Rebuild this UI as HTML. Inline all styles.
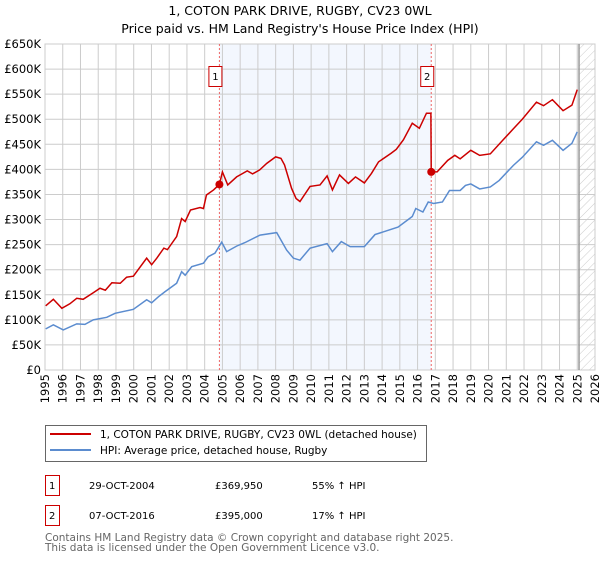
<!DOCTYPE html>
<html><head><meta charset="utf-8"><style>
body{margin:0;background:#fff;font-family:"DejaVu Sans","Liberation Sans",sans-serif;}
</style></head><body>
<svg id="c" width="600" height="560" xmlns="http://www.w3.org/2000/svg" font-family="DejaVu Sans, Liberation Sans, sans-serif">
<defs><pattern id="hatch" width="6" height="6" patternUnits="userSpaceOnUse" patternTransform="rotate(45)"><line x1="0" y1="0" x2="0" y2="6" stroke="#ccc" stroke-width="1"/></pattern></defs>
<text x="300" y="15" text-anchor="middle" font-size="12.5">1, COTON PARK DRIVE, RUGBY, CV23 0WL</text>
<text x="300" y="33" text-anchor="middle" font-size="12.5">Price paid vs. HM Land Registry's House Price Index (HPI)</text>
<g id="plot"></g>
<rect x="45.5" y="425.5" width="381" height="36" fill="#fff" stroke="#666"/>
<line x1="50" y1="434" x2="91" y2="434" stroke="#cc0000" stroke-width="2"/>
<text x="100" y="438" font-size="10.5">1, COTON PARK DRIVE, RUGBY, CV23 0WL (detached house)</text>
<line x1="50" y1="450" x2="91" y2="450" stroke="#5b8ccf" stroke-width="2"/>
<text x="100" y="454" font-size="10.5">HPI: Average price, detached house, Rugby</text>
<g font-size="10">
<rect x="45.5" y="475.5" width="14" height="20" fill="none" stroke="#cc0000"/>
<text x="49" y="489">1</text><text x="89" y="489">29-OCT-2004</text><text x="215" y="489">£369,950</text><text x="312" y="489">55% ↑ HPI</text></g>
<g font-size="10">
<rect x="45.5" y="505.5" width="14" height="20" fill="none" stroke="#cc0000"/>
<text x="49" y="519">2</text><text x="89" y="519">07-OCT-2016</text><text x="215" y="519">£395,000</text><text x="312" y="519">17% ↑ HPI</text></g>
<text x="45" y="541" font-size="10.5" fill="#666">Contains HM Land Registry data © Crown copyright and database right 2025.</text>
<text x="45" y="551" font-size="10.5" fill="#666">This data is licensed under the Open Government Licence v3.0.</text>
</svg>
<script>
const hpiYears=[1995.04,1995.47,1996.03,1996.79,1997.25,1997.72,1998.48,1998.95,1999.98,2000.73,2001.01,2001.39,2001.76,2002.42,2002.7,2002.9,2003.27,2003.93,2004.2,2004.58,2004.96,2005.24,2005.8,2006.27,2007.12,2008.06,2008.62,2009.0,2009.37,2009.94,2010.9,2011.2,2011.7,2012.2,2013.0,2013.6,2014.9,2015.7,2015.9,2016.3,2016.6,2016.9,2017.4,2017.8,2018.4,2018.7,2019.0,2019.5,2020.1,2020.6,2021.4,2021.9,2022.7,2023.1,2023.6,2024.2,2024.7,2025.0];
const hpiValues=[82,90,80,92,91,100,105,113,121,140,134,146,156,173,196,189,206,213,226,233,255,236,247,254,269,274,239,223,219,243,252,236,256,246,246,270,285,306,322,315,335,332,335,358,358,368,371,361,365,378,408,424,455,448,458,438,452,475];
const propYears=[1995.04,1995.47,1995.95,1996.4,1996.79,1997.15,1997.72,1998.1,1998.4,1998.77,1999.24,1999.6,1999.98,2000.73,2001.01,2001.3,2001.7,2001.9,2002.42,2002.7,2002.9,2003.2,2003.74,2003.93,2004.1,2004.5,2004.83,2005.0,2005.3,2005.8,2006.1,2006.4,2006.7,2007.1,2007.5,2008.0,2008.3,2008.5,2008.9,2009.15,2009.37,2009.94,2010.5,2010.9,2011.2,2011.6,2012.1,2012.5,2013.0,2013.4,2013.8,2014.5,2014.8,2015.2,2015.7,2016.1,2016.5,2016.75,2016.77,2017.1,2017.7,2018.1,2018.4,2019.0,2019.5,2020.1,2020.8,2021.4,2021.9,2022.7,2023.1,2023.6,2024.2,2024.7,2025.0];
const propValues=[128,141,123,132,143,141,154,163,159,174,173,185,187,223,210,223,243,240,266,302,296,319,324,322,349,359,370,395,369,385,391,397,391,399,412,425,422,409,362,342,336,366,369,387,359,389,372,385,373,392,415,432,440,459,492,482,512,512,395,395,418,428,421,438,428,431,458,481,500,534,527,539,517,528,559];
const saleYears=[2004.83,2016.77];
const saleValues=[369.95,395];
const saleLabels=["1","2"];
const yTicks=[0,50,100,150,200,250,300,350,400,450,500,550,600,650];
const yTickLabels=["£0","£50K","£100K","£150K","£200K","£250K","£300K","£350K","£400K","£450K","£500K","£550K","£600K","£650K"];
const xTicks=[1995,1996,1997,1998,1999,2000,2001,2002,2003,2004,2005,2006,2007,2008,2009,2010,2011,2012,2013,2014,2015,2016,2017,2018,2019,2020,2021,2022,2023,2024,2025,2026];
const X0=45,X1=595,Y0=370,Y1=44;
const xs=y=>X0+(y-1995)/(2026-1995)*(X1-X0);
const ys=v=>Y0-v/650*(Y0-Y1);
const NS="http://www.w3.org/2000/svg";
const g=document.getElementById('plot');
function mk(t,a,p){const e=document.createElementNS(NS,t);for(const k in a)e.setAttribute(k,a[k]);(p||g).appendChild(e);return e;}
const shade=mk('rect',{x:xs(saleYears[0]),y:Y1,width:xs(saleYears[1])-xs(saleYears[0]),height:Y0-Y1,fill:'#eef3fd',opacity:0.7});


const hat=mk('rect',{x:xs(2025.1),y:Y1,width:X1-xs(2025.1),height:Y0-Y1,fill:'url(#hatch)'});


yTicks.forEach((v,i)=>{
 const l=mk('line',{x1:X0,x2:X1,y1:ys(v),y2:ys(v),stroke:'#ccc'});
 
 
 const t=mk('text',{x:X0-4,y:ys(v)+4,'text-anchor':'end','font-size':'11.5'});
 t.textContent=yTickLabels[i];
 
 
});
xTicks.forEach(y=>{
 const l=mk('line',{x1:xs(y),x2:xs(y),y1:Y1,y2:Y0,stroke:'#ccc'});
 
 
 const t=mk('text',{x:xs(y)+4,y:Y0+4,'text-anchor':'end','font-size':'11.5',transform:`rotate(-90 ${xs(y)+4} ${Y0+4})`});
 t.textContent=y;
 
 
});
const fr=mk('rect',{x:X0,y:Y1,width:X1-X0,height:Y0-Y1,fill:'none',stroke:'#ccc'});


const nl=mk('line',{x1:xs(2025.1),x2:xs(2025.1),y1:Y1,y2:Y0,stroke:'#999','stroke-width':1.5});


saleYears.forEach((y,i)=>{
 const l=mk('line',{x1:xs(y),x2:xs(y),y1:Y1,y2:Y0,stroke:'#e66','stroke-dasharray':'2,2'});
 
 
 const b=mk('rect',{x:xs(y)-10.5,y:66.5,width:13,height:20,fill:'#fff',stroke:'#cc0000'});
 
 
 const t=mk('text',{x:xs(y)-4,y:80,'text-anchor':'middle','font-size':'10'});
 t.textContent=saleLabels[i];
 
 
});
const hp=mk('polyline',{points:hpiYears.map((y,i)=>xs(y)+','+ys(hpiValues[i])).join(' '),fill:'none',stroke:'#5b8ccf','stroke-width':1.5});


const pp=mk('polyline',{points:propYears.map((y,i)=>xs(y)+','+ys(propValues[i])).join(' '),fill:'none',stroke:'#cc0000','stroke-width':1.5});


saleYears.forEach((y,i)=>{
 const c=mk('circle',{cx:xs(y),cy:ys(saleValues[i]),r:4,fill:'#cc0000'});
 
 
});
</script>
</body></html>
